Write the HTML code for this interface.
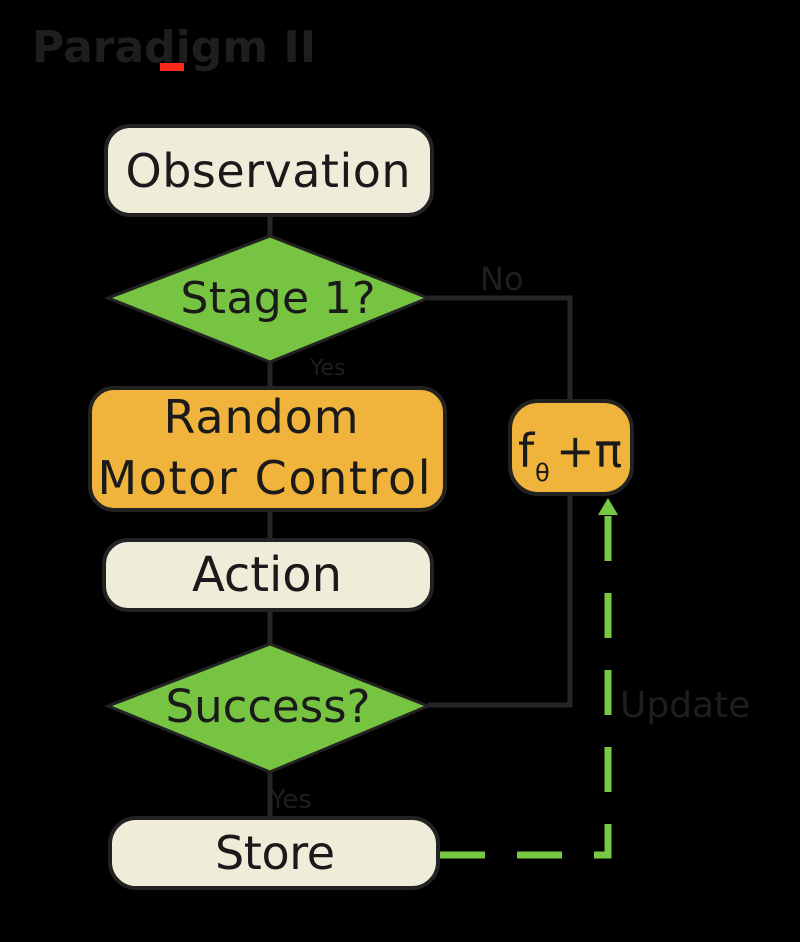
<!DOCTYPE html>
<html><head><style>
html,body{margin:0;padding:0;background:#000;}
svg{display:block;}
text{font-family:"DejaVu Sans","Liberation Sans",sans-serif;}
</style></head><body>
<svg width="800" height="942" viewBox="0 0 800 942" xmlns="http://www.w3.org/2000/svg">
<rect width="800" height="942" fill="#000"/>
<text x="32" y="62" font-size="44" font-weight="bold" fill="#1e1e1e">Paradigm II</text>
<rect x="160" y="63" width="24" height="8" fill="#ff2a1a"/>
<g stroke="#262626" stroke-width="5" fill="none">
<line x1="270" y1="215" x2="270" y2="238"/>
<line x1="270" y1="362" x2="270" y2="390"/>
<line x1="270" y1="510" x2="270" y2="542"/>
<line x1="270" y1="610" x2="270" y2="646"/>
<line x1="270" y1="772" x2="270" y2="820"/>
<polyline points="428,298 570,298 570,402"/>
<polyline points="428,705 570,705 570,492"/>
</g>
<polyline points="440,855 608,855 608,510" stroke="#79c843" stroke-width="7" fill="none" stroke-dasharray="45,32"/>
<polygon points="608,498 598,515 618,515" fill="#79c843"/>
<rect x="106" y="126" width="326" height="89" rx="24" fill="#efecd9" stroke="#222" stroke-width="4"/>
<text x="268" y="187" font-size="46" text-anchor="middle" fill="#1a1a1a" textLength="285">Observation</text>
<polygon points="108,298 270,236 428,298 270,362" fill="#77c442" stroke="#222" stroke-width="3"/>
<text x="278" y="313" font-size="44" text-anchor="middle" fill="#1a1a1a" textLength="195">Stage 1?</text>
<rect x="90" y="388" width="355" height="122" rx="24" fill="#f0b43c" stroke="#222" stroke-width="4"/>
<text x="261" y="433" font-size="46" text-anchor="middle" fill="#1a1a1a" textLength="195">Random</text>
<text x="264" y="494" font-size="46" text-anchor="middle" fill="#1a1a1a" textLength="333">Motor Control</text>
<rect x="104" y="540" width="328" height="70" rx="24" fill="#efecd9" stroke="#222" stroke-width="4"/>
<text x="267" y="591" font-size="48" text-anchor="middle" fill="#1a1a1a" textLength="150">Action</text>
<polygon points="108,706 270,644 428,706 270,772" fill="#77c442" stroke="#222" stroke-width="3"/>
<text x="268" y="722" font-size="45" text-anchor="middle" fill="#1a1a1a" textLength="205">Success?</text>
<rect x="110" y="818" width="328" height="70" rx="26" fill="#efecd9" stroke="#222" stroke-width="4"/>
<text x="275" y="869" font-size="46" text-anchor="middle" fill="#1a1a1a" textLength="120">Store</text>
<rect x="510" y="401" width="122" height="93" rx="28" fill="#f0b43c" stroke="#222" stroke-width="4"/>
<text x="518" y="467" font-size="46" fill="#1a1a1a">f</text>
<text x="535" y="481" font-size="24" fill="#1a1a1a">θ</text>
<text x="556" y="467" font-size="46" fill="#1a1a1a">+π</text>
<text x="480" y="290" font-size="32" fill="#1e1e1e">No</text>
<text x="310" y="375" font-size="22" fill="#1e1e1e">Yes</text>
<text x="270" y="808" font-size="26" fill="#1e1e1e">Yes</text>
<text x="620" y="717" font-size="36" fill="#1e1e1e">Update</text>
</svg>
</body></html>
